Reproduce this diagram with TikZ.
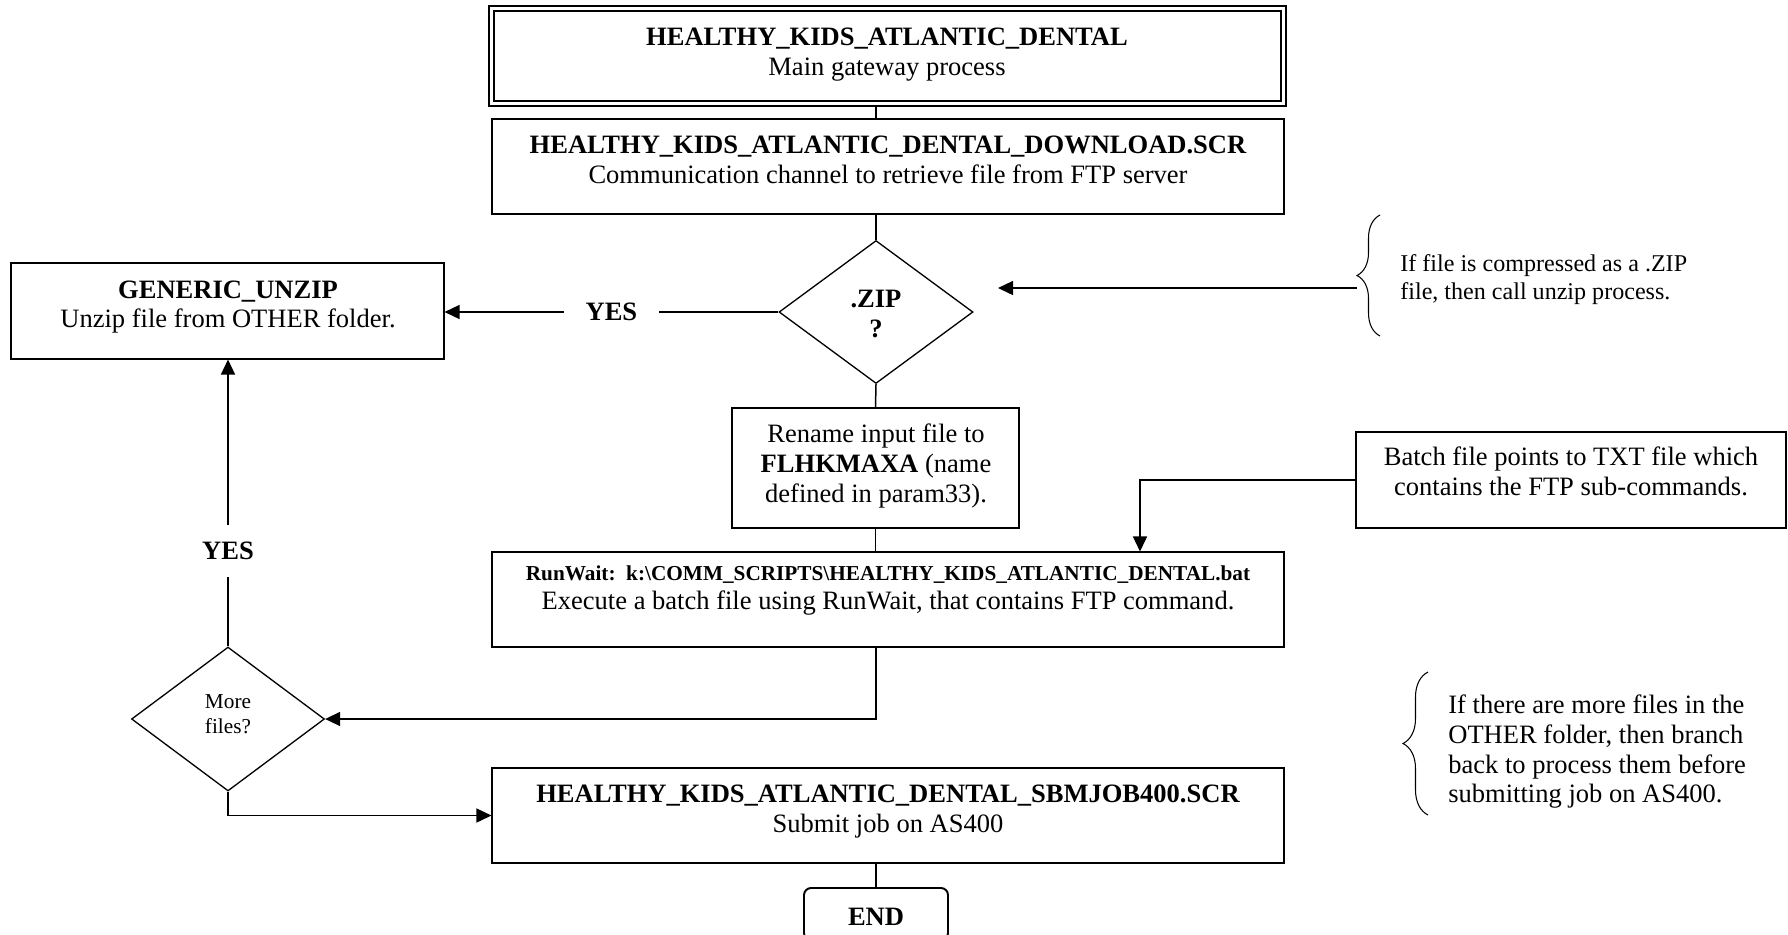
\documentclass[tikz,border=0pt]{standalone}
\usepackage{fontspec}
\setmainfont{Liberation Serif}
\usetikzlibrary{arrows.meta,shapes.geometric,fit,decorations.pathreplacing}
\begin{document}
\begin{tikzpicture}[x=0.02cm,y=-0.02cm,
  box/.style={draw, line width=0.6pt, inner sep=0pt},
  dia/.style={draw, diamond, line width=0.75pt, inner sep=0pt},
  conn/.style={line width=0.85pt},
  arr/.style={conn, -{Triangle[length=0.3cm,width=0.28cm]}},
  txt/.style={anchor=base, inner sep=0pt, font=\fontsize{15.1}{17}\selectfont},
  txtb/.style={txt, font=\fontsize{15.1}{17}\selectfont\bfseries},
  txts/.style={txt, font=\fontsize{12.1}{14}\selectfont},
  txtsb/.style={txt, font=\fontsize{12.1}{14}\selectfont\bfseries},
  txtm/.style={anchor=base west, inner sep=0pt, font=\fontsize{13.7}{16}\selectfont},
  txtl/.style={anchor=base west, inner sep=0pt, font=\fontsize{15.1}{17}\selectfont},
  lbl/.style={fill=white, anchor=center, font=\fontsize{15.1}{17}\selectfont\bfseries},
  brc/.style={line width=0.6pt, decorate},
]
\useasboundingbox (0,0) rectangle (1788,934);
\fill[white] (0,0) rectangle (1788,934);

% boxes
\node[fit={(491.5,8.5) (1283.5,103.5)}, inner sep=0pt, draw, line width=0.044cm, double, double distance=0.052cm] (top) {};
\node[box, fit={(492,119) (1284,214)}] (dl) {};
\node[dia, minimum width=3.88cm, minimum height=2.86cm] (zip) at (876,312) {};
\node[box, fit={(11,263) (444,359)}] (gen) {};
\node[box, line width=1.1pt, fit={(732,408) (1019,528)}] (ren) {};
\node[box, fit={(1356,432) (1786,528)}] (batch) {};
\node[box, fit={(492,552) (1284,647)}] (run) {};
\node[dia, minimum width=3.86cm, minimum height=2.88cm] (more) at (228,719) {};
\node[box, fit={(492,768) (1284,863)}] (sbm) {};
\node[box, line width=1.1pt, rounded corners=0.14cm, fit={(804,888) (948,940)}] (endb) {};

% texts
\node[txtb] (t1a) at (887,45) {HEALTHY\_KIDS\_ATLANTIC\_DENTAL};
\node[txt]  (t1b) at (887,75) {Main gateway process};
\node[txtb] (t2a) at (888,153) {HEALTHY\_KIDS\_ATLANTIC\_DENTAL\_DOWNLOAD.SCR};
\node[txt]  (t2b) at (888,183) {Communication channel to retrieve file from FTP server};
\node[txtb] (t3a) at (876,307) {.ZIP};
\node[txtb] (t3b) at (876,337) {?};
\node[txtb] (t4a) at (228,298) {GENERIC\_UNZIP};
\node[txt]  (t4b) at (228,327) {Unzip file from OTHER folder.};
\node[txt]  (t5a) at (876,442) {Rename input file to};
\node[txt]  (t5b) at (876,472) {\textbf{FLHKMAXA} (name};
\node[txt]  (t5c) at (876,502) {defined in param33).};
\node[txt]  (t6a) at (1571,465) {Batch file points to TXT file which};
\node[txt]  (t6b) at (1571,495) {contains the FTP sub-commands.};
\node[txtsb] (t7a) at (888,580) {RunWait:\ \ k:\textbackslash COMM\_SCRIPTS\textbackslash HEALTHY\_KIDS\_ATLANTIC\_DENTAL.bat};
\node[txt]  (t7b) at (888,609) {Execute a batch file using RunWait, that contains FTP command.};
\node[txts] (t8a) at (228,708) {More};
\node[txts] (t8b) at (228,733) {files?};
\node[txtb] (t9a) at (888,802) {HEALTHY\_KIDS\_ATLANTIC\_DENTAL\_SBMJOB400.SCR};
\node[txt]  (t9b) at (888,832) {Submit job on AS400};
\node[txtb] (t10) at (876,925) {END};
\node[txtm] (n1a) at (1400,271) {If file is compressed as a .ZIP};
\node[txtm] (n1b) at (1400,299) {file, then call unzip process.};
\node[txtl] (n2a) at (1448,713) {If there are more files in the};
\node[txtl] (n2b) at (1448,743) {OTHER folder, then branch};
\node[txtl] (n2c) at (1448,773) {back to process them before};
\node[txtl] (n2d) at (1448,802) {submitting job on AS400.};

% braces
\draw[brc, decoration={brace, amplitude=0.46cm}] (1380,336) -- (1380,215);
\draw[brc, decoration={brace, amplitude=0.5cm}] (1428,815) -- (1428,672);

% connectors
\draw[conn] (top.south -| zip.north) -- (dl.north -| zip.north);
\draw[conn] (dl.south -| zip.north) -- (zip.north);
\draw[arr] (zip.west) -- (zip.west -| gen.east)
  node[lbl, pos=0.5, inner xsep=0.44cm, inner ysep=1pt] (yes1) {YES};
\coordinate (b1s) at (1357,288);
\coordinate (b1e) at (998,288);
\draw[arr] (b1s) -- (b1e);
\draw[conn] (zip.south) -- (ren.north);
\draw[conn] (ren.south) -- (run.north -| ren.south);
\coordinate (bk) at (1140,480);
\draw[arr] (batch.west) -- (bk) -- (bk |- run.north);
\draw[arr] (run.south -| zip.south) |- (more.east);
\draw[arr] (more.north) -- (more.north |- gen.south)
  node[lbl, pos=0.333, inner xsep=1pt, inner ysep=0.34cm] (yes2) {YES};
\draw[arr] (more.south) |- (sbm.west);
\draw[conn] (sbm.south -| zip.south) -- (endb.north);
\end{tikzpicture}
\end{document}
